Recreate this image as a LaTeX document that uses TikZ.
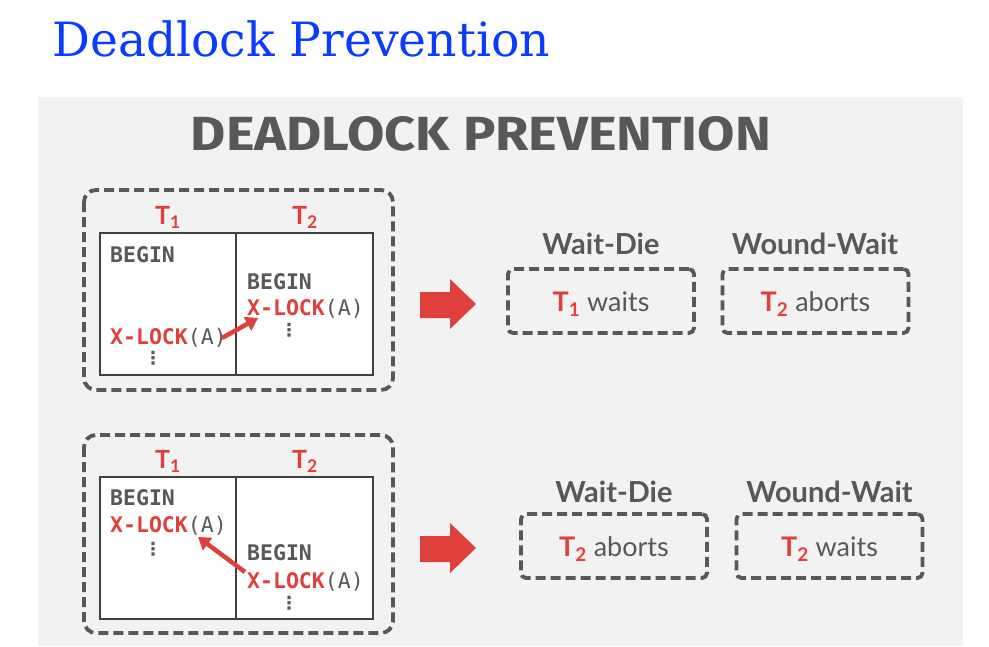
\documentclass[tikz,border=0pt]{standalone}
\usepackage{fontspec}
\usetikzlibrary{arrows.meta}
\setmainfont{Lato}
\newfontfamily\titlefont{DejaVu Serif}
\newfontfamily\headfont{Fira Sans}
\newfontfamily\codefont{DejaVu Sans Mono}
\newfontfamily\dotfont{DejaVu Sans}
\definecolor{dred}{HTML}{E0403C}
\definecolor{dgray}{HTML}{585858}
\definecolor{panel}{HTML}{F2F2F2}
\definecolor{tblue}{HTML}{0A3CFF}
\newcommand{\xl}{\textcolor{dred}{\bfseries X-LOCK}\textcolor{dgray}{(A)}}
\tikzset{
  bigbox/.style={draw=dgray, line width=3.8pt, dash pattern=on 10pt off 5pt, rounded corners=12pt},
  smallbox/.style={draw=dgray, line width=3.8pt, dash pattern=on 10pt off 5pt, rounded corners=5pt,
     minimum width=186pt, minimum height=64pt, inner sep=0pt, text height=20pt, text depth=0pt,
     font=\fontsize{27}{27}\selectfont, text=dgray},
  tbl/.style={draw=black!75, line width=1.2pt, fill=white},
  code/.style={font=\codefont\fontsize{21.5}{21.5}\selectfont, text=dgray, anchor=base west, inner sep=0pt},
  dots/.style={font=\dotfont\bfseries\fontsize{18}{18}\selectfont, text=dgray, anchor=north, inner sep=0pt},
  thead/.style={font=\bfseries\fontsize{25}{25}\selectfont, text=dred, anchor=base, inner sep=0pt},
  rhead/.style={font=\bfseries\fontsize{29}{29}\selectfont, text=dgray, anchor=base, inner sep=0pt},
  redarrow/.style={draw=dred, line width=4.5pt, -{Triangle[length=12pt,width=15pt]}},
  bigarrow/.style={fill=dred, draw=none},
}
\newcommand{\Tn}[1]{\textcolor{dred}{\bfseries T\textsubscript{#1}}}
\begin{document}
\begin{tikzpicture}[x=1pt,y=-1pt]
\useasboundingbox (0,0) rectangle (989,646);
\fill[white] (0,0) rectangle (989,646);
% page title
\node[anchor=base west, inner sep=0pt, text=tblue] (title) at (52,56)
  {\resizebox{498pt}{!}{\titlefont Deadlock Prevention}};
% panel
\fill[panel] (38,97) rectangle (963,646);
\node[anchor=south, inner sep=0pt, text=dgray] (head) at (481,152)
  {\resizebox{580pt}{34pt}{\headfont\bfseries DEADLOCK PREVENTION}};

% ===== top scenario =====
\draw[bigbox] (84,190) rectangle (393,390);
\node[thead] (t1a) at (168,224) {T\textsubscript{1}};
\node[thead] (t2a) at (305,224) {T\textsubscript{2}};
\draw[tbl] (100,233) rectangle (373,375);
\draw[black!75, line width=1.2pt] (236,233) -- (236,375);
\node[code] (b1a) at (110,262) {\bfseries BEGIN};
\node[code] (x1a) at (110,344) {\xl};
\node[dots] (d1a) at (153,351) {⋮};
\node[code] (b2a) at (247,289) {\bfseries BEGIN};
\node[code] (x2a) at (247,315) {\xl};
\node[dots] (d2a) at (289,323) {⋮};
\coordinate (sa) at (222,338);
\coordinate (ea) at (258,318);
\draw[redarrow] (sa) -- (ea);
\fill[bigarrow] (420,292) -- (450,292) -- (450,279) -- (476,304) -- (450,329) -- (450,318) -- (420,318) -- cycle;
\node[rhead] (wda) at (601,254) {Wait-Die};
\node[rhead] (wwa) at (815,254) {Wound-Wait};
\node[smallbox] (ra) at (601,301) {\Tn{1} waits};
\node[smallbox] (rb) at (815.5,301) {\Tn{2} aborts};

% ===== bottom scenario =====
\draw[bigbox] (84,435) rectangle (393,633);
\node[thead] (t1b) at (168,468) {T\textsubscript{1}};
\node[thead] (t2b) at (305,468) {T\textsubscript{2}};
\draw[tbl] (100,477) rectangle (373,619);
\draw[black!75, line width=1.2pt] (236,477) -- (236,619);
\node[code] (b1b) at (110,505) {\bfseries BEGIN};
\node[code] (x1b) at (110,532) {\xl};
\node[dots] (d1b) at (153,542) {⋮};
\node[code] (b2b) at (247,560) {\bfseries BEGIN};
\node[code] (x2b) at (247,588) {\xl};
\node[dots] (d2b) at (289,596) {⋮};
\coordinate (sb) at (245,572);
\coordinate (eb) at (198,537);
\draw[redarrow] (sb) -- (eb);
\fill[bigarrow] (420,536) -- (450,536) -- (450,523) -- (476,548) -- (450,573) -- (450,562) -- (420,562) -- cycle;
\node[rhead] (wdb) at (614,502) {Wait-Die};
\node[rhead] (wwb) at (829.5,502) {Wound-Wait};
\node[smallbox] (rc) at (614,546) {\Tn{2} aborts};
\node[smallbox] (rd) at (829.5,546) {\Tn{2} waits};
\end{tikzpicture}
\end{document}
